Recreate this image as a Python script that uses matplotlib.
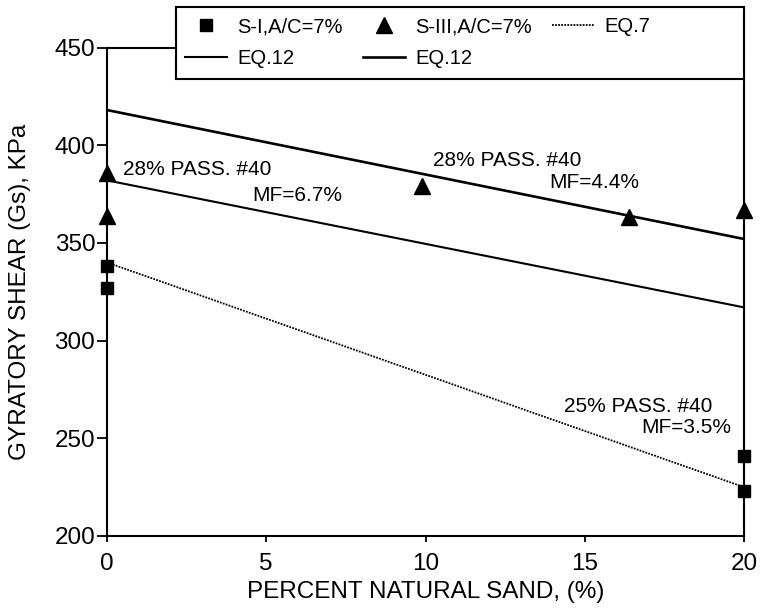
import matplotlib
matplotlib.use("Agg")
import matplotlib.pyplot as plt
from matplotlib.patches import Rectangle

plt.rcParams['font.family'] = ['Liberation Sans', 'DejaVu Sans']

# Data
s1_x = [0, 0, 20, 20]
s1_y = [338, 327, 241, 223]
s3_x = [0, 0, 9.9, 16.4, 20]
s3_y = [386, 364, 379, 363, 367]
eq7_x = [0, 20]
eq7_y = [340, 225]
eq12a_x = [0, 20]
eq12a_y = [382, 317]
eq12b_x = [0, 20]
eq12b_y = [418, 352]

xticks = [0, 5, 10, 15, 20]
yticks = [200, 250, 300, 350, 400, 450]

fig = plt.figure(figsize=(7.62, 6.09), dpi=100)
ax = fig.add_axes([107/762, 1-536/609, (744-107)/762, (536-47.5)/609])

h_s1, = ax.plot(s1_x, s1_y, 's', color='black', ms=8.5, clip_on=False, zorder=5)
h_s3, = ax.plot(s3_x, s3_y, '^', color='black', ms=12, clip_on=False, zorder=5)
h_eq7, = ax.plot(eq7_x, eq7_y, color='black', lw=1.3, ls=(0, (1.0, 0.7)))
h_a, = ax.plot(eq12a_x, eq12a_y, color='black', lw=1.5)
h_b, = ax.plot(eq12b_x, eq12b_y, color='black', lw=1.9)

ax.set_xlim(0, 20)
ax.set_ylim(200, 450)
ax.set_xticks(xticks)
ax.set_yticks(yticks)
ax.tick_params(axis='x', direction='out', length=4, width=1.3, labelsize=17.5, pad=8)
ax.tick_params(axis='y', direction='out', length=7, width=1.3, labelsize=17.5, pad=1.5)
for s in ax.spines.values():
    s.set_linewidth(1.5)

ax.set_xlabel('PERCENT NATURAL SAND, (%)', fontsize=17.5)
ax.set_ylabel('GYRATORY SHEAR (Gs), KPa', fontsize=17.5)
ax.xaxis.set_label_coords(0.5, -(592-536)/488.5, transform=ax.transAxes)
ax.xaxis.label.set_va('center')
ax.yaxis.set_label_coords(-(107-20)/637, 0.5, transform=ax.transAxes)
ax.yaxis.label.set_va('center')

tfs = 15
ax.text(0.5, 387.8, '28% PASS. #40', fontsize=tfs, va='center', ha='left')
ax.text(4.55, 374.5, 'MF=6.7%', fontsize=tfs, va='center', ha='left')
ax.text(10.22, 392.4, '28% PASS. #40', fontsize=tfs, va='center', ha='left')
ax.text(13.89, 381, 'MF=4.4%', fontsize=tfs, va='center', ha='left')
ax.text(14.36, 266.5, '25% PASS. #40', fontsize=tfs, va='center', ha='left')
ax.text(16.77, 255.5, 'MF=3.5%', fontsize=tfs, va='center', ha='left')

# Legend frame box (partly above the axes)
frame = Rectangle((176/762, 1-79/609), (744-176)/762, 72/609,
                  transform=fig.transFigure, facecolor='white',
                  edgecolor='black', lw=1.5, zorder=3)
fig.add_artist(frame)

leg = fig.legend([h_s1, h_a, h_s3, h_b, h_eq7],
                 ['S-I,A/C=7%', 'EQ.12', 'S-III,A/C=7%', 'EQ.12', 'EQ.7'],
                 ncol=3, loc='upper left',
                 bbox_to_anchor=(176/762, 1-8/609),
                 fontsize=14.5, frameon=False,
                 borderpad=0.45, handlelength=2.1, handletextpad=0.5,
                 labelspacing=0.65, columnspacing=1.0, borderaxespad=0)
leg.set_zorder(4)

fig.savefig('out.png', dpi=100)
